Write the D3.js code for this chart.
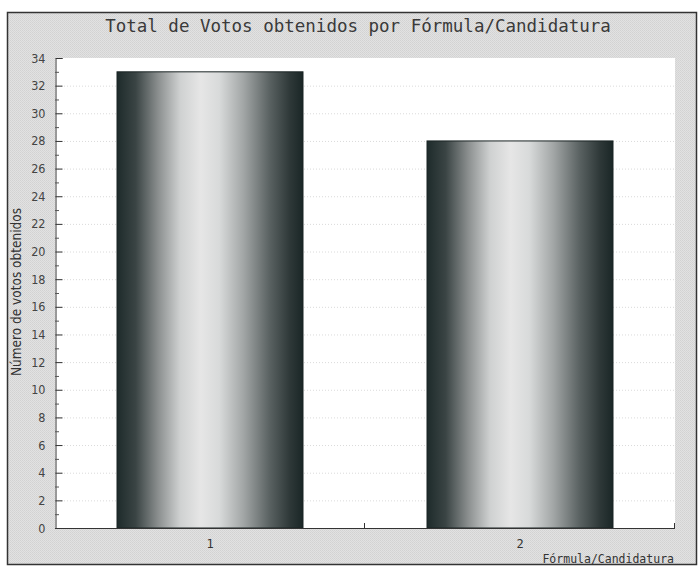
<!DOCTYPE html>
<html><head><meta charset="utf-8">
<script src="https://cdn.jsdelivr.net/npm/d3@7"></script>
<style>
html,body{margin:0;padding:0;background:#fff;}
svg{display:block;}
</style>
</head><body>
<script>
const categories = ["1", "2"];
const votes = [33, 28];
const yTicks = [0,2,4,6,8,10,12,14,16,18,20,22,24,26,28,30,32,34];
const title = "Total de Votos obtenidos por Fórmula/Candidatura";
const xTitle = "Fórmula/Candidatura";
const yTitle = "Número de votos obtenidos";

const W = 699, H = 567;
const m = {left: 55, right: 24, top: 58, bottom: 39};
const svg = d3.select("body").append("svg").attr("width", W).attr("height", H);

const defs = svg.append("defs");
const pat = defs.append("pattern").attr("id","dither").attr("width",2).attr("height",2).attr("patternUnits","userSpaceOnUse");
pat.append("rect").attr("width",2).attr("height",2).attr("fill","#e2e2e2");
pat.append("rect").attr("width",1).attr("height",1).attr("fill","#d2d2d2");
pat.append("rect").attr("x",1).attr("y",1).attr("width",1).attr("height",1).attr("fill","#d6d6d6");

const grad = defs.append("linearGradient").attr("id","cyl").attr("x1","0").attr("x2","1").attr("y1","0").attr("y2","0");
[[0,"#1e2b2b"],[0.1,"#3a4444"],[0.22,"#8a8e8e"],[0.34,"#cfd1d1"],[0.45,"#e6e6e6"],[0.55,"#d8dada"],[0.68,"#a2a6a6"],[0.82,"#5a6262"],[0.93,"#2e3838"],[1,"#1a2626"]]
  .forEach(([o,c]) => grad.append("stop").attr("offset", o).attr("stop-color", c));

// frame
svg.append("rect").attr("x",7.5).attr("y",12.5).attr("width",689).attr("height",552)
  .attr("fill","url(#dither)").attr("stroke","#333").attr("stroke-width",1.5);

const x = d3.scaleBand().domain(categories).range([m.left, W - m.right]).padding(0);
const y = d3.scaleLinear().domain([0, 34]).range([H - m.bottom, m.top]);

// plot area
svg.append("rect").attr("x", m.left).attr("y", y(34)).attr("width", x.range()[1]-m.left).attr("height", y(0)-y(34)).attr("fill","#fff");

// grid
svg.append("g").selectAll("line").data(yTicks.filter(d => d>0 && d<34)).join("line")
  .attr("x1", m.left).attr("x2", x.range()[1]).attr("y1", d => y(d)+0.5).attr("y2", d => y(d)+0.5)
  .attr("stroke","#dadada").attr("stroke-dasharray","1,2").attr("stroke-width",1);

// bars
const bw = x.bandwidth()*0.6;
svg.append("g").selectAll("rect").data(votes).join("rect")
  .attr("x", (d,i) => x(categories[i]) + (x.bandwidth()-bw)/2)
  .attr("y", d => y(d))
  .attr("width", bw)
  .attr("height", d => y(0)-y(d))
  .attr("fill","url(#cyl)").attr("stroke","#1a2424").attr("stroke-width",1);

// y axis
const yAxis = d3.axisLeft(y).tickValues(yTicks).tickSize(-7).tickPadding(10).tickFormat(d3.format("d"));
const ga = svg.append("g").attr("transform",`translate(${m.left+0.5},0)`).call(yAxis);
ga.select(".domain").attr("stroke","#333");
ga.selectAll(".tick line").attr("stroke","#333");
ga.selectAll(".tick text").attr("font-family","'DejaVu Sans Condensed','DejaVu Sans',sans-serif").attr("font-size",12.5).attr("fill","#444");
// minor ticks
const minor = d3.range(1, 34, 2);
svg.append("g").selectAll("line").data(minor).join("line")
  .attr("x1", m.left).attr("x2", m.left+4).attr("y1", d=>y(d)+0.5).attr("y2", d=>y(d)+0.5).attr("stroke","#555");

// x axis
svg.append("line").attr("x1", m.left).attr("x2", x.range()[1]).attr("y1", y(0)+0.5).attr("y2", y(0)+0.5).attr("stroke","#333");
const sep = categories.map(c => x(c) + x.bandwidth());
svg.append("g").selectAll("line").data(sep).join("line")
  .attr("x1", d=>d-0.5).attr("x2", d=>d-0.5).attr("y1", y(0)).attr("y2", y(0)-5).attr("stroke","#333");
svg.append("g").selectAll("text").data(categories).join("text")
  .attr("x", d => x(d)+x.bandwidth()/2).attr("y", y(0)+20)
  .attr("text-anchor","middle").attr("font-family","'DejaVu Sans Mono',monospace").attr("font-size",12).attr("fill","#333").text(d=>d);

// titles
svg.append("text").attr("x", 358).attr("y", 32).attr("text-anchor","middle")
  .attr("font-family","'DejaVu Sans Mono',monospace").attr("font-size",17.5).attr("fill","#3a3a3a").text(title);
svg.append("text").attr("x", 674).attr("y", 563).attr("text-anchor","end")
  .attr("font-family","'DejaVu Sans Mono',monospace").attr("font-size",11.5).attr("fill","#333").text(xTitle);
svg.append("text").attr("transform","translate(21,292) rotate(-90)").attr("text-anchor","middle")
  .attr("font-family","'DejaVu Sans Condensed','DejaVu Sans',sans-serif").attr("font-size",13.5).attr("fill","#333").text(yTitle);
</script>
</body></html>
